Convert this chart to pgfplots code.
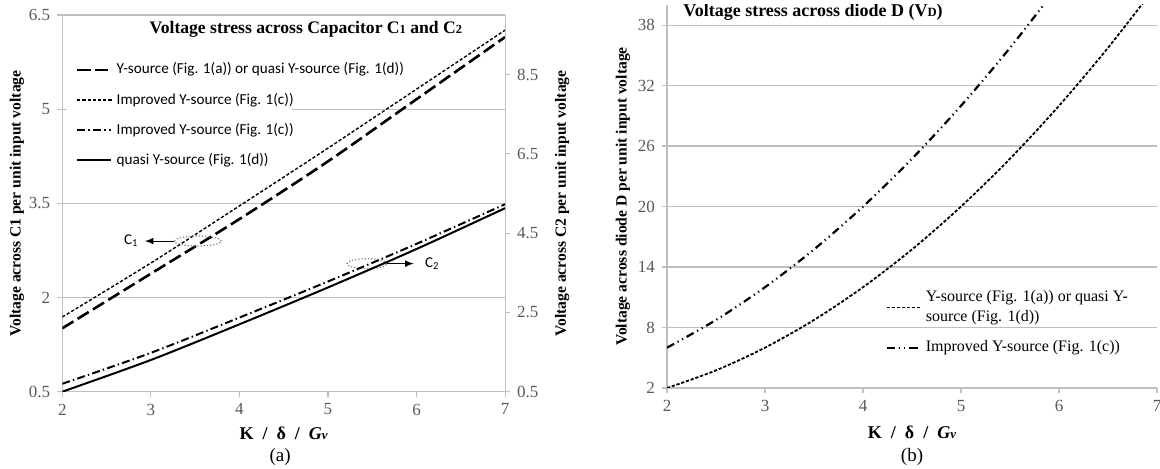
\documentclass[border=0pt]{standalone}
\usepackage{pgfplots}
\pgfplotsset{compat=1.18}
\usepackage{fontspec}
\setmainfont{Liberation Serif}
\newfontfamily\calibri{Carlito}
\definecolor{axgray}{RGB}{191,191,191}
\definecolor{tickgray}{RGB}{89,89,89}

\pgfplotsset{
  common/.style={
    scale only axis,
    xmin=2, xmax=7,
    xtick={2,...,7},
    axis line style={axgray, line width=0.6pt},
    major tick style={axgray, line width=0.6pt},
    tick align=outside,
    major tick length=2.5pt,
    /pgf/number format/assume math mode=true,
    tick label style={font=\fontsize{8.5}{10}\selectfont, text=tickgray},
    label style={font=\bfseries\fontsize{7.8}{9}\selectfont},
  },
}

\begin{document}
\begin{tikzpicture}
\path[use as bounding box] (0,0) rectangle (580pt,234.5pt);

% ---------- (a) capacitor voltages, left axis: C1 ----------
\begin{axis}[common, name=axA,
    at={(31.15pt,38.65pt)}, anchor=south west,
    width=221.4pt, height=188.3pt,
    axis lines*=left,
    ymin=0.5, ymax=6.5,
    ytick={0.5,2,3.5,5,6.5},
    ymajorgrids, grid style={axgray, line width=0.6pt},
    xlabel={K\ \ /\ \ δ\ \ /\ \ {\itshape G{\fontsize{6.5}{7}\selectfont v}}},
    xlabel style={at={(axis description cs:0.5,-0.1096)}, anchor=center,
      font=\bfseries\fontsize{9}{10}\selectfont},
    ylabel={Voltage across C1 per unit input voltage},
    ylabel style={at={(axis description cs:-0.1023,0.5)}, anchor=center},
    legend style={draw=none, fill=none, at={(axis description cs:0.03,0.885)},
      anchor=north west, font=\calibri\fontsize{7.6}{9}\selectfont,
      row sep=4pt, inner sep=0pt},
    legend cell align=left,
  ]
  % white legend box hides part of the gridline at 5
  \fill[white] (axis cs:2.053,4.9) rectangle (axis cs:4.595,5.1);
  \addplot[smooth, black, line width=1.3pt, dash pattern=on 6.5pt off 2.5pt]
    coordinates {(2,1.51) (3,2.38) (4,3.25) (5,4.17) (6,5.16) (7,6.15)};
  \addlegendentry{Y-source (Fig. 1(a)) or quasi Y-source (Fig. 1(d))}
  \addplot[smooth, black, line width=0.7pt, dash pattern=on 1.6pt off 1pt]
    coordinates {(2,1.69) (3,2.55) (4,3.46) (5,4.38) (6,5.32) (7,6.26)};
  \addlegendentry{Improved Y-source (Fig. 1(c))}
  \addlegendimage{black, line width=1pt, dash pattern=on 4pt off 1.6pt on 0.7pt off 1.6pt}
  \addlegendentry{Improved Y-source (Fig. 1(c))}
  \addlegendimage{black, line width=1pt}
  \addlegendentry{quasi Y-source (Fig. 1(d))}

  % C1 / C2 markers
  \draw[gray, densely dotted, line width=0.6pt] (axis cs:3.53,2.90) ellipse [x radius=11.75pt, y radius=2.5pt];
  \draw[-latex, line width=0.5pt] ([xshift=-11.75pt]axis cs:3.53,2.90) -- ([xshift=-26.5pt]axis cs:3.53,2.90);
  \node[font=\calibri\fontsize{7.5}{9}\selectfont] at ([xshift=-33.3pt]axis cs:3.53,2.90) {C\textsubscript{1}};
  \draw[gray, densely dotted, line width=0.6pt] (axis cs:5.44,2.54) ellipse [x radius=10pt, y radius=2.5pt];
  \draw[-latex, line width=0.5pt] ([xshift=10pt]axis cs:5.44,2.54) -- ([xshift=23.4pt]axis cs:5.44,2.54);
  \node[font=\calibri\fontsize{7.5}{9}\selectfont, anchor=west] at ([xshift=25.5pt]axis cs:5.44,2.54) {C\textsubscript{2}};

  \node[font=\bfseries\fontsize{8.8}{10}\selectfont] at (axis description cs:0.55,0.962)
    {Voltage stress across Capacitor C{\fontsize{6.2}{7}\selectfont 1} and C{\fontsize{6.2}{7}\selectfont 2}};
\end{axis}

% ---------- (a) right axis: C2 ----------
\begin{axis}[common,
    at={(31.15pt,38.65pt)}, anchor=south west,
    width=221.4pt, height=188.3pt,
    axis x line=none,
    axis y line*=right,
    ymin=0.5, ymax=10,
    ytick={0.5,2.5,4.5,6.5,8.5},
    ylabel={Voltage across C2 per unit input voltage},
    ylabel style={at={(axis description cs:1.1288,0.5)}, anchor=center},
  ]
  \addplot[smooth, black, line width=1pt, dash pattern=on 4pt off 1.6pt on 0.7pt off 1.6pt]
    coordinates {(2,0.70) (3,1.48) (4,2.37) (5,3.28) (6,4.23) (7,5.23)};
  \addplot[smooth, black, line width=1pt]
    coordinates {(2,0.50) (3,1.30) (4,2.20) (5,3.13) (6,4.10) (7,5.13)};
\end{axis}

% ---------- (b) diode voltage ----------
\begin{axis}[common, name=axB,
    at={(333.5pt,40.5pt)}, anchor=south west,
    width=245pt, height=191.5pt,
    axis lines*=left,
    ymin=2, ymax=40,
    ytick={2,8,14,20,26,32,38},
    ymajorgrids, grid style={axgray, line width=0.6pt},
    xlabel={K\ \ /\ \ δ\ \ /\ \ {\itshape G{\fontsize{6.5}{7}\selectfont v}}},
    xlabel style={at={(axis description cs:0.5,-0.115)}, anchor=center,
      font=\bfseries\fontsize{9}{10}\selectfont},
    ylabel={Voltage across diode D per unit input voltage},
    ylabel style={at={(axis description cs:-0.0898,0.5)}, anchor=center},
    legend style={draw=none, fill=none, at={(axis description cs:0.445,0.266)},
      anchor=north west, font=\fontsize{8}{10}\selectfont,
      row sep=4pt, inner sep=0pt, cells={align=left}},
    legend cell align=left,
  ]
  \addplot[smooth, black, line width=0.9pt, dash pattern=on 1.6pt off 0.9pt]
    coordinates {(2,2) (2.5,3.75) (3,6) (3.5,8.75) (4,12) (4.5,15.75) (5,20)
                 (5.5,24.75) (6,30) (6.5,35.75) (7,42)};
  \addlegendentry{Y-source (Fig. 1(a)) or quasi Y-\\source (Fig. 1(d))}
  \addplot[smooth, black, line width=1.1pt,
      dash pattern=on 4pt off 2pt on 0.6pt off 2pt on 0.6pt off 2pt]
    coordinates {(2,6) (2.5,8.75) (3,12) (3.5,15.75) (4,20) (4.5,24.75) (5,30)
                 (5.5,35.75) (6,42)};
  \addlegendentry{Improved Y-source (Fig. 1(c))}

  \node[font=\bfseries\fontsize{9}{10}\selectfont, anchor=west, inner sep=0pt]
    at (axis description cs:0.0327,0.9817)
    {Voltage stress across diode D (V{\fontsize{6.3}{7}\selectfont D})};
\end{axis}

\node[font=\fontsize{9.5}{11}\selectfont] at ([xshift=-1.8pt, yshift=-32.65pt]axA.south) {(a)};
\node[font=\fontsize{9.5}{11}\selectfont] at ([yshift=-34.35pt]axB.south) {(b)};
\end{tikzpicture}
\end{document}
